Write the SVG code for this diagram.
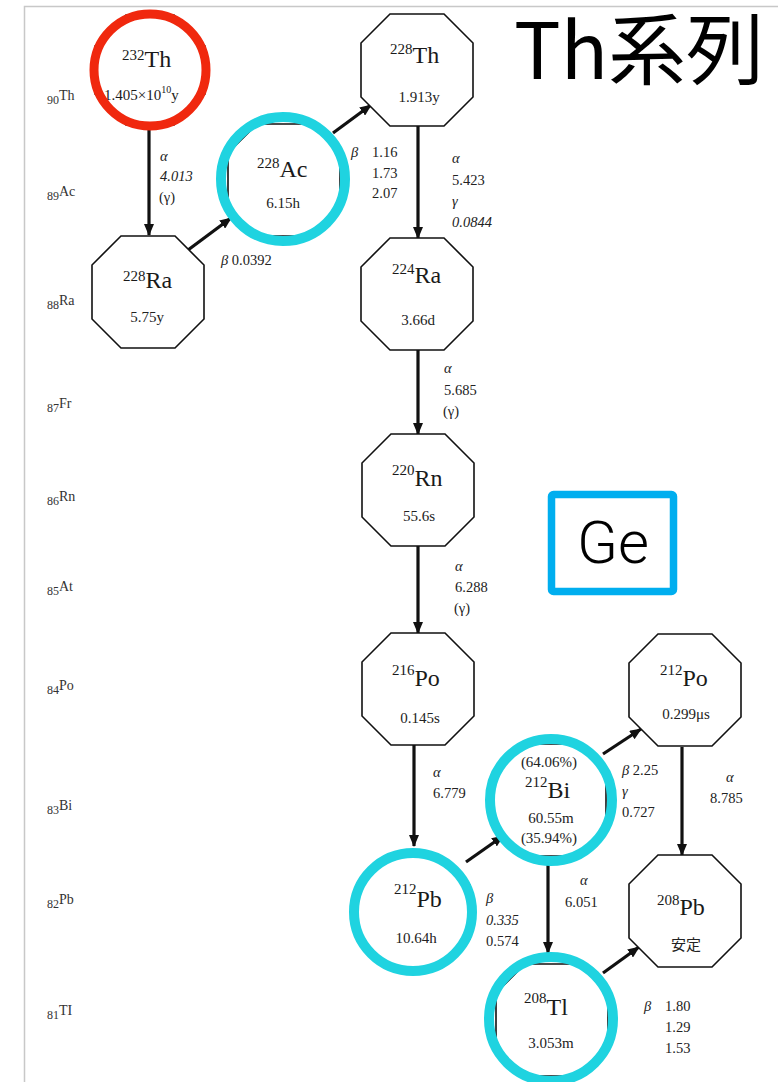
<svg xmlns="http://www.w3.org/2000/svg" xmlns:xlink="http://www.w3.org/1999/xlink" width="778" height="1082" viewBox="0 0 778 1082">
  <style>
    .frame { stroke: #c8c8c8; stroke-width: 1.5; fill: none; }
    .oct { fill: #ffffff; stroke: #111111; stroke-width: 1.6; }
    .ring { fill: none; stroke: #1fd3e0; stroke-width: 10; }
    .ring-red { fill: none; stroke: #f0280e; stroke-width: 9; }
    .arrow { stroke: #111111; stroke-width: 3.2; fill: none; marker-end: url(#head); }
    .nuc { font-family: "Liberation Serif", "Noto Sans CJK JP", serif; fill: #1a1a1a; }
    .sym { font-size: 24px; }
    .mass { font-size: 15px; }
    .life { font-family: "Liberation Serif", "Noto Sans CJK JP", serif; font-size: 15px; fill: #222222; text-anchor: middle; }
    .dk { font-family: "Liberation Serif", serif; font-size: 14.5px; fill: #222222; }
    .it { font-style: italic; }
    .z { font-family: "Liberation Serif", serif; fill: #333333; }
    .title { font-family: "Noto Sans CJK JP", "Noto Sans", sans-serif; font-size: 78px; fill: #000000; }
    .ge { font-family: Roboto, "Noto Sans", sans-serif; font-weight: 300; font-size: 60px; fill: #000000; }
  </style>
  <defs>
    <!-- octagon used for every nuclide box -->
    <polygon id="oct" points="-27,-56 27,-56 56,-27 56,27 27,56 -27,56 -56,27 -56,-27"/>
    <polygon id="oct-s" points="-24,-55 24,-55 55,-24 55,24 24,55 -24,55 -55,24 -55,-24"/>
    <marker id="head" viewBox="0 0 12 10" refX="11" refY="5" markerWidth="12" markerHeight="10" markerUnits="userSpaceOnUse" orient="auto">
      <path d="M0,0 L12,5 L0,10 z" fill="#111111"/>
    </marker>
  </defs>

  <rect width="778" height="1082" fill="#ffffff"/>
  <!-- page edge lines -->
  <path class="frame" d="M24.5,1082 V6.5 H778"/>

  <!-- atomic-number axis -->
  <g id="axis" class="z">
    <text x="47" y="102"><tspan font-size="12" dy="2">90</tspan><tspan font-size="14" dy="-4">Th</tspan></text>
    <text x="47" y="198"><tspan font-size="12" dy="2">89</tspan><tspan font-size="14" dy="-4">Ac</tspan></text>
    <text x="47" y="307"><tspan font-size="12" dy="2">88</tspan><tspan font-size="14" dy="-4">Ra</tspan></text>
    <text x="47" y="410"><tspan font-size="12" dy="2">87</tspan><tspan font-size="14" dy="-4">Fr</tspan></text>
    <text x="47" y="503"><tspan font-size="12" dy="2">86</tspan><tspan font-size="14" dy="-4">Rn</tspan></text>
    <text x="47" y="593"><tspan font-size="12" dy="2">85</tspan><tspan font-size="14" dy="-4">At</tspan></text>
    <text x="47" y="692"><tspan font-size="12" dy="2">84</tspan><tspan font-size="14" dy="-4">Po</tspan></text>
    <text x="47" y="812"><tspan font-size="12" dy="2">83</tspan><tspan font-size="14" dy="-4">Bi</tspan></text>
    <text x="47" y="906"><tspan font-size="12" dy="2">82</tspan><tspan font-size="14" dy="-4">Pb</tspan></text>
    <text x="47" y="1017"><tspan font-size="12" dy="2">81</tspan><tspan font-size="14" dy="-4">TI</tspan></text>
  </g>

  <!-- decay arrows -->
  <g id="connectors">
    <line class="arrow" x1="149" y1="128" x2="149" y2="235"/>
    <line class="arrow" x1="188" y1="250" x2="231" y2="218"/>
    <line class="arrow" x1="333" y1="133" x2="371" y2="105"/>
    <line class="arrow" x1="418" y1="126" x2="418" y2="238"/>
    <line class="arrow" x1="418" y1="350" x2="418" y2="434"/>
    <line class="arrow" x1="418" y1="546" x2="418" y2="633"/>
    <line class="arrow" x1="414" y1="745" x2="414" y2="846"/>
    <line class="arrow" x1="466" y1="862" x2="503" y2="836"/>
    <line class="arrow" x1="603" y1="754" x2="641" y2="729"/>
    <line class="arrow" x1="548" y1="854" x2="548" y2="953"/>
    <line class="arrow" x1="682" y1="747" x2="682" y2="855"/>
    <line class="arrow" x1="603" y1="973" x2="639" y2="947"/>
    <circle cx="548" cy="854" r="2.5" fill="#111111"/>
  </g>

  <!-- decay energies -->
  <g id="decay-labels" class="dk">
    <text x="160" y="161" class="it">α</text>
    <text x="160" y="181" class="it">4.013</text>
    <text x="159" y="202">(γ)</text>

    <text x="221" y="265"><tspan class="it">β</tspan> 0.0392</text>

    <text x="351" y="157"><tspan class="it">β</tspan></text>
    <text x="372" y="157">1.16</text>
    <text x="372" y="178">1.73</text>
    <text x="372" y="198">2.07</text>

    <text x="452" y="163" class="it">α</text>
    <text x="452" y="185">5.423</text>
    <text x="452" y="206" class="it">γ</text>
    <text x="452" y="227" class="it">0.0844</text>

    <text x="444" y="373" class="it">α</text>
    <text x="444" y="395">5.685</text>
    <text x="443" y="416">(γ)</text>

    <text x="455" y="571" class="it">α</text>
    <text x="455" y="592">6.288</text>
    <text x="454" y="613">(γ)</text>

    <text x="433" y="777" class="it">α</text>
    <text x="433" y="798">6.779</text>

    <text x="622" y="775"><tspan class="it">β</tspan> 2.25</text>
    <text x="622" y="796" class="it">γ</text>
    <text x="622" y="817">0.727</text>

    <text x="726" y="782" class="it">α</text>
    <text x="710" y="803">8.785</text>

    <text x="486" y="903" class="it">β</text>
    <text x="486" y="925" class="it">0.335</text>
    <text x="486" y="946">0.574</text>

    <text x="580" y="885" class="it">α</text>
    <text x="565" y="907">6.051</text>

    <text x="644" y="1011"><tspan class="it">β</tspan></text>
    <text x="665" y="1011">1.80</text>
    <text x="665" y="1032">1.29</text>
    <text x="665" y="1053">1.53</text>
  </g>

  <!-- nuclides -->
  <g id="th232">
    <use xlink:href="#oct-s" href="#oct-s" x="150" y="70" class="oct"/>
    <text class="nuc" x="122" y="67"><tspan class="mass" dy="-7">232</tspan><tspan class="sym" dy="7">Th</tspan></text>
    <text class="nuc" x="104" y="100" font-size="15">1.405×10<tspan font-size="10" dy="-7">10</tspan><tspan dy="7">y</tspan></text>
    <circle class="ring-red" cx="150" cy="70" r="56"/>
  </g>

  <g id="ra228">
    <use xlink:href="#oct" href="#oct" x="148" y="292" class="oct"/>
    <text class="nuc" x="123" y="288"><tspan class="mass" dy="-7">228</tspan><tspan class="sym" dy="7">Ra</tspan></text>
    <text class="life" x="147" y="322">5.75y</text>
  </g>

  <g id="ac228">
    <use xlink:href="#oct" href="#oct" x="284" y="180" class="oct"/>
    <text class="nuc" x="257" y="177"><tspan class="mass" dy="-9">228</tspan><tspan class="sym" dy="9">Ac</tspan></text>
    <text class="life" x="283" y="208">6.15h</text>
    <circle class="ring" cx="283" cy="179" r="62"/>
  </g>

  <g id="th228">
    <use xlink:href="#oct" href="#oct" x="417" y="70" class="oct"/>
    <text class="nuc" x="390" y="63"><tspan class="mass" dy="-9">228</tspan><tspan class="sym" dy="9">Th</tspan></text>
    <text class="life" x="419" y="102">1.913y</text>
  </g>

  <g id="ra224">
    <use xlink:href="#oct" href="#oct" x="417" y="294" class="oct"/>
    <text class="nuc" x="392" y="283"><tspan class="mass" dy="-9">224</tspan><tspan class="sym" dy="9">Ra</tspan></text>
    <text class="life" x="418" y="325">3.66d</text>
  </g>

  <g id="rn220">
    <use xlink:href="#oct" href="#oct" x="418" y="490" class="oct"/>
    <text class="nuc" x="392" y="486"><tspan class="mass" dy="-11">220</tspan><tspan class="sym" dy="11">Rn</tspan></text>
    <text class="life" x="419" y="521">55.6s</text>
  </g>

  <g id="po216">
    <use xlink:href="#oct" href="#oct" x="418" y="689" class="oct"/>
    <text class="nuc" x="392" y="686"><tspan class="mass" dy="-11">216</tspan><tspan class="sym" dy="11">Po</tspan></text>
    <text class="life" x="420" y="723">0.145s</text>
  </g>

  <g id="po212">
    <use xlink:href="#oct" href="#oct" x="685" y="690" class="oct"/>
    <text class="nuc" x="660" y="686"><tspan class="mass" dy="-11">212</tspan><tspan class="sym" dy="11">Po</tspan></text>
    <text class="life" x="686" y="719">0.299μs</text>
  </g>

  <g id="bi212">
    <use xlink:href="#oct" href="#oct" x="550" y="800" class="oct"/>
    <text class="life" x="549" y="767" font-size="14">(64.06%)</text>
    <text class="nuc" x="525" y="798"><tspan class="mass" dy="-11">212</tspan><tspan class="sym" dy="11">Bi</tspan></text>
    <text class="life" x="551" y="823">60.55m</text>
    <text class="life" x="549" y="843" font-size="14">(35.94%)</text>
    <circle class="ring" cx="551" cy="800" r="61"/>
  </g>

  <g id="pb212">
    <use xlink:href="#oct" href="#oct" x="414" y="912" class="oct"/>
    <text class="nuc" x="394" y="907"><tspan class="mass" dy="-13">212</tspan><tspan class="sym" dy="13">Pb</tspan></text>
    <text class="life" x="416" y="943">10.64h</text>
    <circle class="ring" cx="413" cy="912" r="59"/>
  </g>

  <g id="pb208">
    <use xlink:href="#oct" href="#oct" x="685" y="911" class="oct"/>
    <text class="nuc" x="657" y="915"><tspan class="mass" dy="-10">208</tspan><tspan class="sym" dy="10">Pb</tspan></text>
    <text class="life" x="686" y="950" font-family="Noto Sans CJK JP, sans-serif" font-size="14">安定</text>
  </g>

  <g id="tl208">
    <use xlink:href="#oct" href="#oct" x="552" y="1020" class="oct"/>
    <text class="nuc" x="524" y="1015"><tspan class="mass" dy="-12">208</tspan><tspan class="sym" dy="12">Tl</tspan></text>
    <text class="life" x="551" y="1048">3.053m</text>
    <circle class="ring" cx="551" cy="1019" r="62"/>
  </g>

  <!-- heading -->
  <text class="title" x="514" y="79">Th系列</text>

  <!-- detector tag -->
  <g id="ge">
    <rect x="551.5" y="494.5" width="122" height="97" rx="2" fill="#ffffff" stroke="#00aeef" stroke-width="7.5"/>
    <text class="ge" x="613" y="563" text-anchor="middle">Ge</text>
  </g>
</svg>
